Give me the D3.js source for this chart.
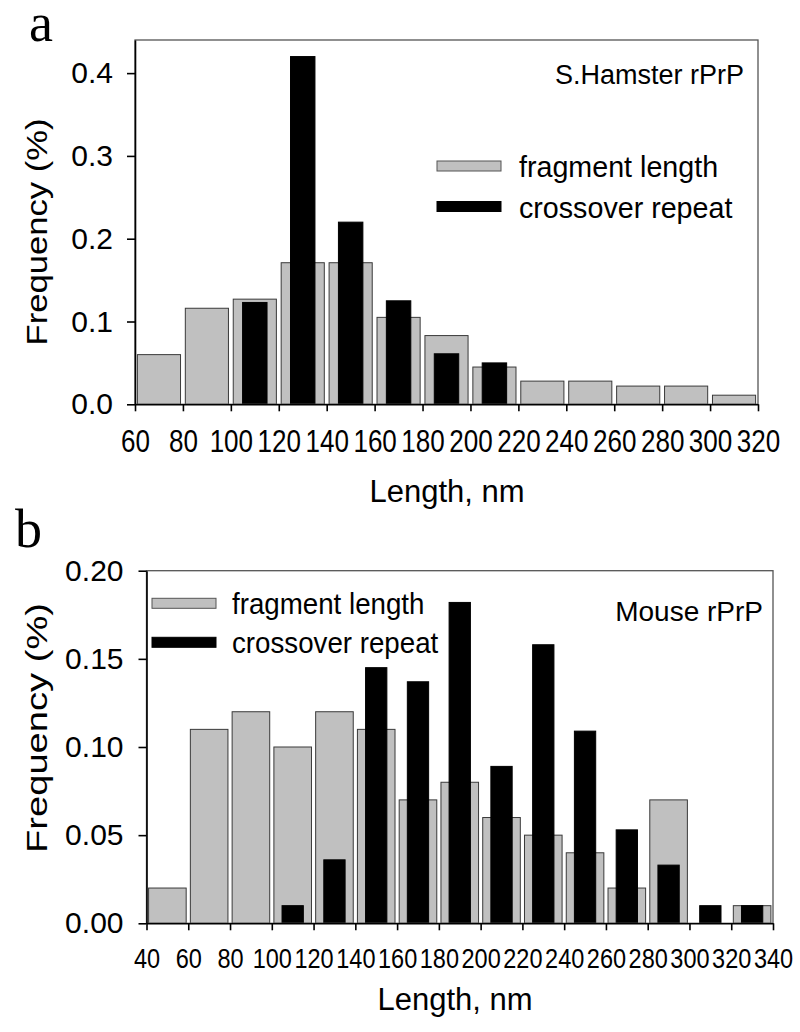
<!DOCTYPE html>
<html>
<head>
<meta charset="utf-8">
<script src="https://cdn.jsdelivr.net/npm/d3@7"></script>
<style>
  body { margin: 0; background: #fff; }
  text { font-family: "Liberation Sans", Arial, sans-serif; fill: #000; }
  text.letter { font-family: "Liberation Serif", "Times New Roman", serif; }
</style>
</head>
<body>
<svg id="fig" width="800" height="1032"></svg>
<script>
// panel a : S.Hamster rPrP
const binStartA = [60, 80, 100, 120, 140, 160, 180, 200, 220, 240, 260, 280, 300];
const fragmentA = [0.060, 0.116, 0.127, 0.171, 0.171, 0.105, 0.083, 0.045, 0.028, 0.028, 0.022, 0.022, 0.011];
const crossoverA = [0, 0, 0.123, 0.420, 0.220, 0.125, 0.061, 0.050, 0, 0, 0, 0, 0];
const xTicksA = [60, 80, 100, 120, 140, 160, 180, 200, 220, 240, 260, 280, 300, 320];
const yTicksA = [0, 0.1, 0.2, 0.3, 0.4];

// panel b : Mouse rPrP
const binStartB = [40, 60, 80, 100, 120, 140, 160, 180, 200, 220, 240, 260, 280, 300, 320];
const fragmentB = [0.02, 0.11, 0.12, 0.10, 0.12, 0.11, 0.07, 0.08, 0.06, 0.05, 0.04, 0.02, 0.07, 0, 0.01];
const crossoverB = [0, 0, 0, 0.01, 0.036, 0.145, 0.137, 0.182, 0.089, 0.158, 0.109, 0.053, 0.033, 0.01, 0.01];
const xTicksB = [40, 60, 80, 100, 120, 140, 160, 180, 200, 220, 240, 260, 280, 300, 320, 340];
const yTicksB = [0, 0.05, 0.10, 0.15, 0.20];

const legendLabels = ["fragment length", "crossover repeat"];
const binWidth = 20;

let svg = d3.select("#fig");

// squeeze text horizontally (the original figure is a bit condensed)
function squeeze(sel, f) {
    sel.each(function () {
        let L = this.getComputedTextLength();
        d3.select(this).attr("textLength", L * f).attr("lengthAdjust", "spacingAndGlyphs");
    });
}

function drawPanel(p) {
    let x = d3.scaleLinear().domain(p.xDomain).range(p.xRange);
    let y = d3.scaleLinear().domain(p.yDomain).range(p.yRange);
    let g = svg.append("g");
    let bw = x(binWidth) - x(0);

    let bins = p.bins.map((b, i) => ({ start: b, frag: p.frag[i], cross: p.cross[i] }));

    // grey bars (fragment length)
    g.selectAll(".frag")
        .data(bins.filter(d => d.frag > 0))
        .join("rect")
        .attr("class", "frag")
        .attr("x", d => x(d.start) + bw * 0.05)
        .attr("width", bw * 0.9)
        .attr("y", d => y(d.frag))
        .attr("height", d => y(0) - y(d.frag))
        .attr("fill", "#c0c0c0")
        .attr("stroke", "#3a3a3a")
        .attr("stroke-width", 1);

    // black bars (crossover repeat)
    g.selectAll(".cross")
        .data(bins.filter(d => d.cross > 0))
        .join("rect")
        .attr("class", "cross")
        .attr("x", d => x(d.start) + bw * 0.245)
        .attr("width", bw * 0.51)
        .attr("y", d => y(d.cross))
        .attr("height", d => y(0) - y(d.cross))
        .attr("fill", "#000")
        .attr("stroke", "#000")
        .attr("stroke-width", 1);

    // frame
    g.append("rect")
        .attr("x", p.xRange[0]).attr("y", p.yRange[1])
        .attr("width", p.xRange[1] - p.xRange[0])
        .attr("height", p.yRange[0] - p.yRange[1])
        .attr("fill", "none")
        .attr("stroke", "#555")
        .attr("stroke-width", 1.3);

    // axes
    let ax = g.append("g")
        .attr("transform", `translate(0,${p.yRange[0]})`)
        .call(d3.axisBottom(x).tickValues(p.xTicks).tickFormat(d3.format("d"))
            .tickSize(7).tickSizeOuter(0).tickPadding(p.xPad));
    ax.select(".domain").attr("stroke", "#000").attr("stroke-width", 1.6);
    ax.selectAll(".tick line").attr("stroke", "#000").attr("stroke-width", 1.6);
    ax.selectAll(".tick text").attr("font-size", p.xFont);
    squeeze(ax.selectAll(".tick text"), p.xSqueeze);

    let ay = g.append("g")
        .attr("transform", `translate(${p.xRange[0]},0)`)
        .call(d3.axisLeft(y).tickValues(p.yTicks).tickFormat(d3.format(p.yFmt))
            .tickSize(8).tickSizeOuter(0).tickPadding(p.yPad));
    ay.select(".domain").attr("stroke", "#000").attr("stroke-width", 1.6);
    ay.selectAll(".tick line").attr("stroke", "#000").attr("stroke-width", 1.6);
    ay.selectAll(".tick text").attr("font-size", 30);

    // axis titles
    g.append("text")
        .attr("x", p.xTitle[0]).attr("y", p.xTitle[1])
        .attr("text-anchor", "middle")
        .attr("font-size", 31)
        .text("Length, nm");

    g.append("text")
        .attr("transform", `translate(${p.yTitle[0]},${p.yTitle[1]}) rotate(-90)`)
        .attr("text-anchor", "middle")
        .attr("font-size", 30)
        .attr("textLength", p.yTitle[2])
        .attr("lengthAdjust", "spacingAndGlyphs")
        .text("Frequency (%)");

    // species label
    g.append("text")
        .attr("x", p.species[1]).attr("y", p.species[2])
        .attr("text-anchor", "end")
        .attr("font-size", p.species[3])
        .text(p.species[0]);

    // legend
    let lg = g.selectAll(".leg")
        .data(legendLabels)
        .join("g")
        .attr("class", "leg")
        .attr("transform", (d, i) => `translate(${p.legend[0]},${p.legend[1] + i * p.legend[2]})`);
    lg.append("rect")
        .attr("x", 0).attr("y", -5)
        .attr("width", p.legend[3]).attr("height", 10)
        .attr("fill", (d, i) => i == 0 ? "#c0c0c0" : "#000")
        .attr("stroke", (d, i) => i == 0 ? "#555" : "#000");
    let lt = lg.append("text")
        .attr("x", p.legend[4]).attr("y", 11)
        .attr("font-size", p.legend[5])
        .text(d => d);
    squeeze(lt, 0.955);

    // panel letter
    svg.append("text")
        .attr("class", "letter")
        .attr("x", p.letter[1]).attr("y", p.letter[2])
        .attr("font-size", 54)
        .text(p.letter[0]);
}

drawPanel({
    bins: binStartA, frag: fragmentA, cross: crossoverA,
    xDomain: [60, 320], xRange: [135, 758],
    yDomain: [0, 0.44], yRange: [404.3, 40],
    xTicks: xTicksA, yTicks: yTicksA, yFmt: ".1f",
    xPad: 19, xFont: 31, xSqueeze: 0.84, yPad: 14,
    xTitle: [447, 502], yTitle: [47, 232, 227],
    species: ["S.Hamster rPrP", 744, 84, 27],
    legend: [437, 166, 40.5, 64, 82, 30],
    letter: ["a", 29, 41]
});

drawPanel({
    bins: binStartB, frag: fragmentB, cross: crossoverB,
    xDomain: [40, 340], xRange: [146.5, 773],
    yDomain: [0, 0.20], yRange: [923.3, 570.7],
    xTicks: xTicksB, yTicks: yTicksB, yFmt: ".2f",
    xPad: 18, xFont: 28, xSqueeze: 0.84, yPad: 15,
    xTitle: [455, 1010], yTitle: [47, 728, 250],
    species: ["Mouse rPrP", 763, 621, 28],
    legend: [152, 603.3, 39, 64, 80, 29],
    letter: ["b", 15, 547]
});
</script>
</body>
</html>
